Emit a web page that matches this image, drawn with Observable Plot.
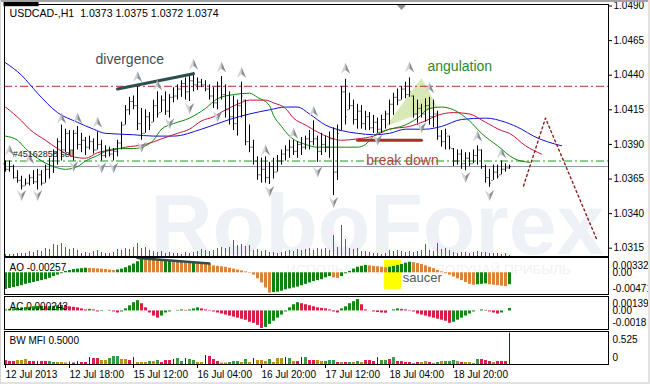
<!DOCTYPE html>
<html><head><meta charset="utf-8">
<script src="https://cdn.jsdelivr.net/npm/d3@7"></script>
<script src="https://cdn.jsdelivr.net/npm/@observablehq/plot@0.6"></script>
<style>
html,body{margin:0;padding:0;background:#fff;}
#chart{position:relative;width:650px;height:384px;overflow:hidden;background:#fff;}
#chart svg{position:absolute;left:0;top:0;}
.edge{position:absolute;}
</style></head>
<body><div id="chart"></div>
<script>
// ---------------- DATA ----------------
const symbolName = "USDCAD-,H1";
const priceTicks = [1.0490,1.0465,1.0440,1.0415,1.0390,1.0365,1.0340,1.0315];
const timeIdx = [0,16,32,48,64,80,96,112];
const timeLabels = ["12 Jul 2013","12 Jul 18:00","15 Jul 12:00","16 Jul 04:00","16 Jul 20:00","17 Jul 12:00","18 Jul 04:00","18 Jul 20:00"];

const highs = [1.0378,1.0378,1.0375,1.0371,1.0367,1.0365,1.0368,1.0371,1.0372,1.0371,
1.0375,1.0380,1.0386,1.0394,1.0404,1.0401,1.0400,1.0400,1.0403,1.0398,
1.0395,1.0396,1.0394,1.0399,1.0393,1.0389,1.0388,1.0387,1.0393,1.0406,
1.0418,1.0424,1.0425,1.0433,1.0416,1.0415,1.0413,1.0422,1.0428,1.0425,
1.0428,1.0426,1.0431,1.0433,1.0436,1.0438,1.0439,1.0442,1.0438,1.0437,
1.0436,1.0433,1.0431,1.0435,1.0439,1.0433,1.0428,1.0425,1.0422,1.0435,
1.0422,1.0404,1.0393,1.0381,1.0380,1.0381,1.0377,1.0380,1.0382,1.0386,
1.0389,1.0393,1.0393,1.0392,1.0395,1.0396,1.0400,1.0407,1.0396,1.0398,
1.0396,1.0399,1.0402,1.0404,1.0432,1.0437,1.0427,1.0422,1.0419,1.0418,
1.0414,1.0413,1.0411,1.0409,1.0411,1.0414,1.0422,1.0427,1.0430,1.0432,
1.0435,1.0438,1.0425,1.0422,1.0419,1.0423,1.0424,1.0422,1.0414,1.0400,
1.0401,1.0396,1.0387,1.0386,1.0386,1.0384,1.0384,1.0386,1.0389,1.0386,
1.0375,1.0372,1.0375,1.0375,1.0378,1.0376,1.0375];
const lows = [1.0370,1.0370,1.0365,1.0362,1.0357,1.0360,1.0360,1.0361,1.0357,1.0360,
1.0362,1.0365,1.0369,1.0375,1.0378,1.0384,1.0382,1.0378,1.0386,1.0384,
1.0382,1.0386,1.0383,1.0386,1.0378,1.0380,1.0381,1.0378,1.0381,1.0386,
1.0404,1.0411,1.0415,1.0400,1.0393,1.0398,1.0400,1.0406,1.0409,1.0413,
1.0411,1.0409,1.0420,1.0422,1.0424,1.0422,1.0421,1.0428,1.0429,1.0431,
1.0428,1.0422,1.0416,1.0415,1.0422,1.0409,1.0404,1.0400,1.0396,1.0409,
1.0389,1.0384,1.0375,1.0364,1.0362,1.0362,1.0361,1.0365,1.0370,1.0375,
1.0378,1.0380,1.0382,1.0380,1.0382,1.0386,1.0386,1.0389,1.0377,1.0382,
1.0384,1.0380,1.0353,1.0364,1.0400,1.0404,1.0415,1.0404,1.0401,1.0401,
1.0400,1.0400,1.0398,1.0398,1.0398,1.0401,1.0404,1.0411,1.0418,1.0422,
1.0423,1.0424,1.0409,1.0404,1.0409,1.0406,1.0404,1.0402,1.0393,1.0388,
1.0386,1.0386,1.0374,1.0375,1.0372,1.0371,1.0374,1.0376,1.0375,1.0372,
1.0362,1.0359,1.0364,1.0365,1.0368,1.0370,1.0372];
const opens = [1.0376,1.0372,1.0374,1.0366,1.0364,1.0360,1.0362,1.0366,1.0363,1.0368,
1.0362,1.0372,1.0378,1.0384,1.0392,1.0386,1.0398,1.0386,1.0398,1.0390,
1.0393,1.0388,1.0392,1.0386,1.0390,1.0382,1.0386,1.0383,1.0385,1.0391,
1.0404,1.0415,1.0421,1.0418,1.0405,1.0398,1.0410,1.0406,1.0418,1.0413,
1.0422,1.0414,1.0424,1.0425,1.0430,1.0434,1.0428,1.0436,1.0433,1.0435,
1.0433,1.0430,1.0425,1.0420,1.0432,1.0426,1.0415,1.0410,1.0405,1.0418,
1.0422,1.0392,1.0388,1.0378,1.0368,1.0372,1.0366,1.0374,1.0370,1.0378,
1.0383,1.0386,1.0388,1.0385,1.0390,1.0388,1.0394,1.0392,1.0394,1.0385,
1.0390,1.0388,1.0394,1.0370,1.0400,1.0428,1.0415,1.0418,1.0408,1.0414,
1.0405,1.0410,1.0402,1.0406,1.0401,1.0408,1.0412,1.0419,1.0424,1.0422,
1.0430,1.0426,1.0425,1.0412,1.0416,1.0412,1.0418,1.0410,1.0412,1.0396,
1.0392,1.0396,1.0387,1.0378,1.0383,1.0376,1.0380,1.0376,1.0382,1.0386,
1.0374,1.0366,1.0364,1.0370,1.0368,1.0372,1.0373];
const closes = [1.0372,1.0374,1.0366,1.0364,1.0360,1.0362,1.0366,1.0363,1.0368,1.0362,
1.0372,1.0378,1.0384,1.0392,1.0386,1.0398,1.0386,1.0398,1.0390,1.0393,
1.0388,1.0392,1.0386,1.0390,1.0382,1.0386,1.0383,1.0385,1.0391,1.0404,
1.0415,1.0421,1.0418,1.0405,1.0398,1.0410,1.0404,1.0418,1.0412,1.0422,
1.0414,1.0424,1.0425,1.0430,1.0434,1.0428,1.0436,1.0433,1.0435,1.0433,
1.0430,1.0425,1.0420,1.0432,1.0426,1.0415,1.0410,1.0405,1.0418,1.0425,
1.0392,1.0388,1.0378,1.0368,1.0372,1.0366,1.0374,1.0370,1.0378,1.0383,
1.0386,1.0388,1.0385,1.0390,1.0388,1.0394,1.0392,1.0394,1.0385,1.0390,
1.0388,1.0394,1.0370,1.0398,1.0428,1.0410,1.0418,1.0408,1.0414,1.0405,
1.0410,1.0402,1.0406,1.0401,1.0408,1.0412,1.0419,1.0424,1.0422,1.0430,
1.0426,1.0428,1.0412,1.0416,1.0412,1.0418,1.0410,1.0412,1.0396,1.0392,
1.0398,1.0388,1.0378,1.0383,1.0376,1.0380,1.0376,1.0382,1.0386,1.0374,
1.0366,1.0362,1.0370,1.0367,1.0372,1.0373,1.0374];
const volumes = [100,100,100,150,150,150,250,200,300,250, 400,350,600,550,650,450,350,400,300,150,
200,150,250,300,200,150,150,200,350,300, 400,350,450,650,400,450,300,250,200,250,
150,200,150,150,100,200,150,200,250,350, 300,250,300,400,450,400,450,800,550,600,
500,550,300,350,250,300,200,200,150,200, 250,300,250,350,300,350,400,300,400,350,
400,300,1050,450,1550,850,400,350,400,250, 250,200,150,150,100,150,300,250,300,250,
200,250,200,250,300,600,300,250,650,350, 400,300,200,150,200,200,150,200,250,200,
200,150,150,150,100,150,50];

// Alligator lines (bar index, price)
const jawIdx = [0,4,8,13,18,22,25,32,37,42,49,56,61,66,70,73,76,80,84,88,92,96,100,105,109,114,120,125,129,132,139];
const jawVal = [1.0449,1.0440,1.0427,1.0413,1.0406,1.0401,1.0398,1.0397,1.0396,1.0396,1.0401,1.0408,1.0412,1.0415,1.0417,1.0417,1.0412,1.0404,1.0400,1.0398,1.0397,1.0398,1.0401,1.0401,1.0403,1.0408,1.0409,1.0406,1.0401,1.0396,1.0389];
const teethIdx = [0,4,6,10,13,17,20,23,27,30,35,39,43,46,49,52,55,58,61,65,67,70,72,75,78,81,84,88,92,96,101,105,108,112,116,120,124,126,130,134];
const teethVal = [1.0417,1.0407,1.0401,1.0393,1.0387,1.0381,1.0380,1.0384,1.0386,1.0388,1.0390,1.0394,1.0398,1.0401,1.0407,1.0410,1.0415,1.0419,1.0422,1.0422,1.0420,1.0416,1.0409,1.0404,1.0399,1.0395,1.0393,1.0394,1.0396,1.0401,1.0403,1.0407,1.0411,1.0413,1.0412,1.0406,1.0400,1.0398,1.0389,1.0383];
const lipsIdx = [0,3,5,8,12,15,18,20,23,25,28,32,35,37,39,42,46,50,53,57,61,63,66,67,69,71,75,78,82,85,88,90,92,96,99,103,106,109,112,116,119,123,127,131];
const lipsVal = [1.0396,1.0393,1.0387,1.0380,1.0374,1.0372,1.0374,1.0378,1.0382,1.0385,1.0387,1.0387,1.0389,1.0393,1.0401,1.0405,1.0409,1.0416,1.0423,1.0426,1.0427,1.0424,1.0418,1.0411,1.0403,1.0396,1.0390,1.0388,1.0388,1.0388,1.0388,1.0390,1.0396,1.0401,1.0403,1.0409,1.0416,1.0417,1.0415,1.0407,1.0398,1.0389,1.0380,1.0377];

// Fractals
const upIdx = [1,6,14,18,23,33,38,47,54,59,65,72,77,85,101,106,118,124];
const upPrice = [1.0386,1.0380,1.0409,1.0409,1.0406,1.0439,1.0433,1.0448,1.0446,1.0442,1.0386,1.0398,1.0414,1.0445,1.0446,1.0431,1.0396,1.0384];
const downIdx = [4,8,17,24,27,34,41,46,53,66,78,82,93,104,115,121];
const downPrice = [1.0353,1.0353,1.0374,1.0373,1.0373,1.0388,1.0405,1.0416,1.0410,1.0356,1.0370,1.0348,1.0393,1.0402,1.0366,1.0353];

// Levels and drawn objects
const redLevel = 1.0432, greenLevel = 1.0378, bidPrice = 1.0374;
const divIdx = [28,47], divPrice = [1.0430,1.0441];
const breakIdx = [88,104], breakPrice = [1.0393,1.0393];
const triIdx = [95,104,108], triPrice = [1.0403,1.0438,1.0417];
const fcIdx = [129.5,135,148], fcPrice = [1.0360,1.0409,1.0320];
const notes = [
  {t:"divergence", i:22.5, p:1.0451, c:"#3f4f5a"},
  {t:"angulation", i:105.5, p:1.0446, c:"#2b8a2b"},
  {t:"break down", i:90.2, p:1.0378, c:"#b0463f"}
];
const orderLabel = {t:"#45162858 sell", i:1.8, p:1.0383};

// AO
const aoVals = [-0.0036,-0.0034,-0.0032,-0.0030,-0.0028,-0.0025,-0.0023,-0.0021,-0.0019,-0.0017,-0.0015,-0.0012,-0.0008,-0.0005,-0.0002,
0.0003,0.0005,0.0007,0.0008,0.0009,0.0010,
0.00095,0.0009,0.00085,0.0008,0.0007,0.0006,0.0005,
0.0006,0.0008,0.0011,0.0015,0.0019,0.0024,0.0031,
0.0029,0.0028,0.0027,0.0026,0.0025,0.00255,0.0026,0.0025,0.0024,0.0023,0.00225,0.0022,0.00222,0.0021,0.0020,0.0019,0.0018,
0.0015,0.0014,0.0013,0.0012,0.0010,0.0008,0.0006,0.0004,0.0002,-0.0001,
-0.0005,-0.0013,-0.0022,-0.0033,-0.0044,
-0.0043,-0.0042,-0.0040,-0.0037,-0.0035,-0.0033,-0.0031,-0.0028,-0.0025,-0.0022,-0.0019,-0.0017,-0.0015,-0.0011,-0.0008,
-0.0011,-0.0012,
-0.0008,-0.0002,0.0003,0.0008,0.0012,0.0014,0.0016,
0.0015,0.0014,0.0013,0.0012,0.0011,
0.0012,0.0014,0.0016,0.0018,0.0021,0.0023,
0.0022,0.0020,0.0018,0.0015,0.0012,0.0009,0.0005,0.0002,-0.0002,-0.0005,-0.0009,-0.0013,-0.0017,-0.0021,-0.0025,-0.0027,
-0.0026,-0.0025,-0.0024,
-0.0026,-0.0027,-0.0028,-0.0029,-0.0030,
-0.00257];
const aoTicks = [0.00332, 0, -0.00471];
const aoTickText = ["0.00332","0.00","-0.00471"];
const aoDivIdx = [33,51], aoDivVal = [0.0032,0.0020];
const saucerIdx = [94.75,99], saucerVal = [0.0027,-0.0036];
const saucerNote = {t:"saucer", i:99.3, v:-0.0010};

// AC
const acVals = [0.0001,0.00015,0.0002,0.00025,0.0003,0.00032,0.00035,0.0004,0.00042,0.00045,
0.0004,0.00042,0.00045,0.0005,0.00052,0.00045,0.0004,0.00035,0.0003,0.0002,
0.0001,0.00015,0.0001,-0.0001,-0.00005,0.0,0.00005,-0.0001,-0.0002,-0.0001,
0.0002,0.0005,0.0008,0.0010,0.0007,0.0003,-0.0002,-0.0005,-0.0007,-0.0005,
-0.0002,-0.0001,0.0,0.00005,0.0001,0.00005,0.0001,0.0002,0.0003,0.0002,
0.0001,0.00005,-0.0001,-0.0002,-0.0003,-0.0004,-0.0005,-0.0006,-0.0007,-0.0008,
-0.0009,-0.0011,-0.0012,-0.0014,-0.0017,-0.0016,-0.0013,-0.0010,-0.0007,-0.0004,
-0.0001,0.0003,0.0006,0.0008,0.0007,0.0006,0.0005,0.0004,0.0003,0.00025,
0.0002,0.0001,-0.0001,-0.0002,0.0002,0.0004,0.0007,0.0009,0.0011,0.0006,
0.0001,0.0,-0.0001,-0.00015,-0.0002,-0.00022,0.0,0.0001,0.0002,0.00015,
0.0001,0.00005,-0.0001,-0.0003,-0.0004,-0.0005,-0.0006,-0.0007,-0.0008,-0.0009,
-0.0010,-0.0012,-0.0011,-0.0009,-0.0007,-0.0005,-0.0003,-0.0001,0.0,0.0001,
0.00005,-0.0001,-0.0002,-0.0003,-0.0002,0.0,0.000243];
const acTicks = [0.001398, 0, -0.0018];
const acTickText = ["0.001398","0.00","-0.0018"];

// BW MFI
const mfiVals = [0.064,0.048,0.048,0.064,0.064,0.08,0.048,0.048,0.048,0.048,
0.048,0.048,0.032,0.032,0.032,0.024,0.04,0.024,0.048,0.032,
0.032,0.11,0.095,0.095,0.064,0.064,0.095,0.127,0.127,0.08,
0.08,0.064,0.11,0.032,0.032,0.032,0.048,0.048,0.064,0.032,
0.064,0.064,0.08,0.095,0.048,0.095,0.08,0.064,0.032,0.032,
0.143,0.127,0.08,0.048,0.024,0.024,0.032,0.048,0.048,0.032,
0.08,0.032,0.095,0.064,0.064,0.048,0.08,0.032,0.095,0.095,
0.11,0.095,0.048,0.048,0.11,0.11,0.064,0.064,0.064,0.048,
0.048,0.064,0.064,0.032,0.032,0.032,0.032,0.032,0.048,0.032,
0.064,0.064,0.048,0.11,0.064,0.064,0.08,0.11,0.048,0.048,
0.032,0.032,0.016,0.032,0.032,0.048,0.032,0.016,0.032,0.048,
0.048,0.048,0.064,0.048,0.032,0.032,0.032,0.016,0.08,0.08,
0.064,0.048,0.032,0.048,0.048,0.048,0.50];
const mfiZones = ["r","r","r","o","o","o","r","r","b","r",
"r","g","g","o","o","o","b","r","b","r",
"r","b","r","r","o","o","g","g","g","o",
"o","r","b","o","o","o","g","o","g","r",
"r","r","b","g","g","b","g","g","o","o",
"b","r","r","r","o","o","g","g","g","o",
"g","o","b","o","o","o","g","o","o","o",
"b","g","o","r","b","g","r","r","o","o",
"g","g","g","r","o","r","g","o","g","o",
"r","r","r","b","g","g","r","g","r","r",
"r","r","o","r","o","o","r","o","g","o",
"g","g","g","o","r","o","o","o","g","r",
"r","r","o","r","r","r","b"];
const mfiTicks = [0.525, 0];
const mfiTickText = ["0.525","0"];

const slogan = "ИСПОЛЬЗУЙ ОПЫТ — ПОЛУЧАЙ ПРИБЫЛЬ";
const brand = "RoboForex";

// ---------------- DRAWING ----------------
const FONT = "Liberation Sans, Arial, sans-serif";
const W = 650, H = 384;
const base = {
  width: W, height: H, marginLeft: 4, marginRight: 42,
  x: {domain: [-0.25, 150.75], axis: null},
  color: {type: "identity"},
  style: {background: "transparent", fontFamily: FONT, fontSize: "10px", color: "#000", overflow: "visible"}
};
const N = highs.length;
const bars = d3.range(N).map(i => ({i, o: opens[i], h: highs[i], l: lows[i], c: closes[i]}));
const pts = (xs, ys) => xs.map((x, k) => ({x, y: ys[k]}));

const arrowUpL = {draw(c, s){const r=Math.sqrt(s/Math.PI); c.moveTo(0,-r); c.lineTo(0,0.3*r); c.lineTo(-0.85*r,r); c.closePath();}};
const arrowUpR = {draw(c, s){const r=Math.sqrt(s/Math.PI); c.moveTo(0,-r); c.lineTo(0.85*r,r); c.lineTo(0,0.3*r); c.closePath();}};
const arrowDnL = {draw(c, s){const r=Math.sqrt(s/Math.PI); c.moveTo(0,r); c.lineTo(0,-0.3*r); c.lineTo(-0.85*r,-r); c.closePath();}};
const arrowDnR = {draw(c, s){const r=Math.sqrt(s/Math.PI); c.moveTo(0,r); c.lineTo(0.85*r,-r); c.lineTo(0,-0.3*r); c.closePath();}};
const ups = pts(upIdx, upPrice), downs = pts(downIdx, downPrice);
const mainY = {domain: [1.03090, 1.04911], axis: null};

const chart = document.getElementById("chart");

// layer 1: watermark + tick volume
const volLayer = Plot.plot({
  ...base, marginTop: 216, marginBottom: 128,
  y: {domain: [0, 2000], axis: null},
  marks: [
    Plot.text([brand], {frameAnchor: "bottom-left", dx: 146, dy: -3, textAnchor: "start", lineAnchor: "bottom",
      fontSize: 86, fontWeight: "bold", fill: "#eef2f7", text: d => d}),
    Plot.ruleX(volumes.map((v, i) => ({i, v})), {x: "i", y1: 0, y2: "v", stroke: "#1f8c1f", strokeWidth: 1})
  ]
});
chart.appendChild(volLayer);

// layer 2: price chart
const mainPlot = Plot.plot({
  ...base, marginTop: 4, marginBottom: 128,
  y: mainY,
  marks: [
    Plot.line(pts(triIdx, triPrice), {x: "x", y: "y", fill: "#d3e8ad", stroke: "none", fillOpacity: 0.9}),
    Plot.ruleY([redLevel], {stroke: "#c0262d", strokeDasharray: "8,3,2,3"}),
    Plot.ruleY([greenLevel], {stroke: "#1d9a1d", strokeDasharray: "8,3,2,3"}),
    Plot.ruleY([bidPrice], {stroke: "#8896a4"}),
    Plot.line(pts(jawIdx, jawVal), {x: "x", y: "y", stroke: "#1010d8", strokeWidth: 1, curve: "monotone-x"}),
    Plot.line(pts(teethIdx, teethVal), {x: "x", y: "y", stroke: "#c8123a", strokeWidth: 1, curve: "monotone-x"}),
    Plot.line(pts(lipsIdx, lipsVal), {x: "x", y: "y", stroke: "#0a8a0a", strokeWidth: 1, curve: "monotone-x"}),
    Plot.ruleX(bars, {x: "i", y1: "l", y2: "h", stroke: "#000"}),
    Plot.ruleY(bars, {y: "o", x1: d => d.i - 0.375, x2: d => d.i - 0.125, stroke: "#000"}),
    Plot.ruleY(bars, {y: "c", x1: d => d.i + 0.125, x2: d => d.i + 0.375, stroke: "#000"}),
    Plot.line(pts(breakIdx, breakPrice), {x: "x", y: "y", stroke: "#a8302c", strokeWidth: 3}),
    Plot.line(pts(divIdx, divPrice), {x: "x", y: "y", stroke: "#2f4f4f", strokeWidth: 3}),
    Plot.line(pts(fcIdx, fcPrice), {x: "x", y: "y", stroke: "#8b1a1a", strokeWidth: 1.4, strokeDasharray: "2,3"}),
    Plot.dot(ups, {x: "x", y: "y", r: 5.5, symbol: arrowUpL, fill: "#cfd3d7", stroke: "none"}),
    Plot.dot(ups, {x: "x", y: "y", r: 5.5, symbol: arrowUpR, fill: "#868d94", stroke: "none"}),
    Plot.dot(downs, {x: "x", y: "y", r: 5.5, symbol: arrowDnL, fill: "#cfd3d7", stroke: "none"}),
    Plot.dot(downs, {x: "x", y: "y", r: 5.5, symbol: arrowDnR, fill: "#868d94", stroke: "none"}),
    Plot.text(notes, {x: "i", y: "p", text: "t", fill: "c", fontSize: 14, textAnchor: "start"}),
    Plot.text([orderLabel], {x: "i", y: "p", text: "t", fill: "#222", fontSize: 9, textAnchor: "start"}),
    Plot.text([`${symbolName}  ${opens[N-1].toFixed(4)} ${highs[N-1].toFixed(4)} ${lows[N-1].toFixed(4)} ${closes[N-1].toFixed(4)}`],
      {frameAnchor: "top-left", dx: 5, dy: 9, textAnchor: "start", lineAnchor: "middle", fill: "#000", fontSize: 10.6, text: d => d}),
    Plot.frame({stroke: "#000"}),
    Plot.axisY({anchor: "right", ticks: priceTicks, tickFormat: d => d.toFixed(4), tickSize: 3, tickPadding: 2, label: null}),
    Plot.text([bidPrice], {y: d => d, frameAnchor: "right", dx: 5, textAnchor: "start", fill: "white", text: d => d.toFixed(4)})
  ]
});
chart.appendChild(mainPlot);

// layer 3: AO
const AO_UP = "#128012", AO_DN = "#d8843a";
const aoData = aoVals.map((v, i) => ({i, v, c: (i === 0 || v > aoVals[i-1]) ? AO_UP : AO_DN}));
const subAxis = (ticks, texts, shifts) => ticks.map((t, k) => Plot.axisY({anchor: "right", ticks: [t], tickFormat: () => texts[k], tickSize: 0, tickPadding: 4, dy: shifts[k], label: null}));
const aoPlot = Plot.plot({
  ...base, marginTop: 257, marginBottom: 90,
  y: {domain: [-0.00471, 0.00332], axis: null},
  marks: [
    Plot.text([slogan], {frameAnchor: "top-left", dx: 282, dy: 12, textAnchor: "start", lineAnchor: "middle", fontSize: 13.5, fill: "#f0f2f5", text: d => d}),
    Plot.rect([{x1: saucerIdx[0], x2: saucerIdx[1], y1: saucerVal[1], y2: saucerVal[0]}], {x1: "x1", x2: "x2", y1: "y1", y2: "y2", fill: "#ffff00"}),
    Plot.ruleX(aoData, {x: "i", y1: 0, y2: "v", stroke: "c", strokeWidth: 3}),
    Plot.line(pts(aoDivIdx, aoDivVal), {x: "x", y: "y", stroke: "#2f4f4f", strokeWidth: 2.5}),
    Plot.text([saucerNote], {x: "i", y: "v", text: "t", fill: "#4d585f", fontSize: 13, textAnchor: "start"}),
    Plot.text([`AO ${aoVals[N-1].toFixed(5)}`], {frameAnchor: "top-left", dx: 5, dy: 10, textAnchor: "start", lineAnchor: "middle", fill: "#000", text: d => d}),
    Plot.frame({stroke: "#000"}),
    ...subAxis(aoTicks, aoTickText, [8, 0, -6])
  ]
});
chart.appendChild(aoPlot);

// layer 4: AC
const AC_UP = "#138a13", AC_DN = "#d81d49";
const acData = acVals.map((v, i) => ({i, v, c: (i === 0 || v > acVals[i-1]) ? AC_UP : AC_DN}));
const acPlot = Plot.plot({
  ...base, marginTop: 296, marginBottom: 55,
  y: {domain: [-0.0018, 0.001398], axis: null},
  marks: [
    Plot.ruleX(acData, {x: "i", y1: 0, y2: "v", stroke: "c", strokeWidth: 3}),
    Plot.text([`AC ${acVals[N-1].toFixed(6)}`], {frameAnchor: "top-left", dx: 5, dy: 10.5, textAnchor: "start", lineAnchor: "middle", fill: "#000", text: d => d}),
    Plot.frame({stroke: "#000"}),
    ...subAxis(acTicks, acTickText, [7, 0, -7])
  ]
});
chart.appendChild(acPlot);

// layer 5: BW MFI + time axis
const MFI_COL = {g: "#3a9a4a", o: "#b8901a", b: "#1c1c7c", r: "#dc1e50"};
const mfiData = mfiVals.map((v, i) => ({i, v, z: mfiZones[i], c: MFI_COL[mfiZones[i]]}));
const mfiPlot = Plot.plot({
  ...base, marginTop: 331, marginBottom: 20,
  y: {domain: [0, 0.525], axis: null},
  marks: [
    Plot.ruleX(mfiData.filter(d => d.z !== "b"), {x: "i", y1: 0, y2: "v", stroke: "c", strokeWidth: 3}),
    Plot.ruleX(mfiData.filter(d => d.z === "b"), {x: "i", y1: 0, y2: "v", stroke: "c", strokeWidth: 1}),
    Plot.text([`BW MFI ${mfiVals[N-1].toFixed(4)}`], {frameAnchor: "top-left", dx: 5, dy: 9.5, textAnchor: "start", lineAnchor: "middle", fill: "#000", text: d => d}),
    Plot.frame({stroke: "#000"}),
    ...subAxis(mfiTicks, mfiTickText, [8, -7]),
    Plot.axisX({anchor: "bottom", ticks: timeIdx, tickFormat: d => timeLabels[timeIdx.indexOf(d)], tickSize: 4, tickPadding: 2, textAnchor: "start", label: null})
  ]
});
chart.appendChild(mfiPlot);

// black box behind current price label
mainPlot.querySelectorAll('g[fill="white"] text').forEach(t => {
  const b = t.getBBox();
  const r = document.createElementNS("http://www.w3.org/2000/svg", "rect");
  r.setAttribute("x", b.x - 2); r.setAttribute("y", b.y - 0.5);
  r.setAttribute("width", b.width + 4); r.setAttribute("height", b.height + 1);
  r.setAttribute("fill", "#000");
  t.parentNode.insertBefore(r, t);
});

// window edges and chart-shift marker
[["0px","0px","650px","2px","#a3a3a3"],["0px","382px","650px","2px","#e2e2e2"],["648px","0px","2px","384px","#e2e2e2"],["0px","0px","1px","384px","#d6d6d6"]]
  .forEach(([l,t,w,h,c]) => { const d = document.createElement("div"); d.className = "edge"; Object.assign(d.style, {left:l, top:t, width:w, height:h, background:c}); chart.appendChild(d); });
const mk = document.createElementNS("http://www.w3.org/2000/svg", "svg");
mk.setAttribute("width", "650"); mk.setAttribute("height", "20");
mk.innerHTML = '<polygon points="397,5 406,5 401.5,10" fill="#8a9097"/>';
chart.appendChild(mk);
</script>
</body></html>
